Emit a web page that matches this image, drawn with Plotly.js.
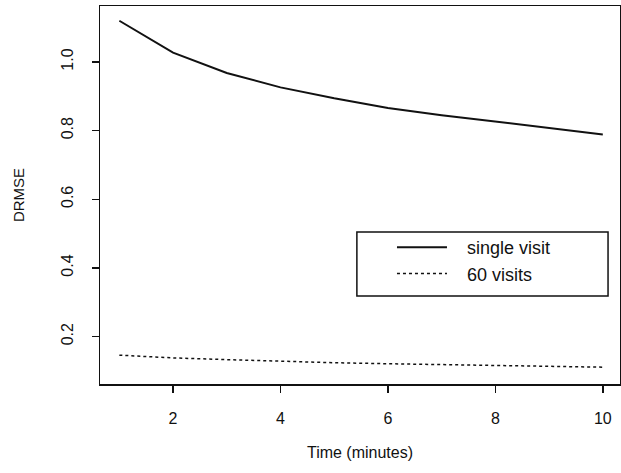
<!DOCTYPE html>
<html>
<head>
<meta charset="utf-8">
<script src="https://cdn.plot.ly/plotly-3.0.1.min.js"></script>
<style>html,body{margin:0;padding:0;background:#fff;}#chart{width:621px;height:473px;}</style>
</head>
<body>
<div id="chart"></div>
<script>
const timeMinutes = [1, 2, 3, 4, 5, 6, 7, 8, 9, 10];
const singleVisit = [1.120, 1.027, 0.968, 0.926, 0.894, 0.866, 0.845, 0.826, 0.808, 0.789];
const sixtyVisits = [0.146, 0.138, 0.133, 0.128, 0.124, 0.121, 0.118, 0.116, 0.113, 0.111];
const seriesNames = ["single visit", "60 visits"];
const xTicks = [2, 4, 6, 8, 10];
const yTicks = [0.2, 0.4, 0.6, 0.8, 1.0];
const yTickText = ["0.2", "0.4", "0.6", "0.8", "1.0"];

const font = "Liberation Sans, Arial, Helvetica, sans-serif";
const gap = "\u00a0\u00a0\u00a0";

const traces = [
  {x: timeMinutes, y: singleVisit, name: gap + seriesNames[0], mode: "lines",
   line: {color: "#111", width: 2, dash: "solid"}},
  {x: timeMinutes, y: sixtyVisits, name: gap + seriesNames[1], mode: "lines",
   line: {color: "#111", width: 1.5, dash: "dot"}}
];

const layout = {
  width: 621, height: 473,
  margin: {l: 100, r: 1, t: 6, b: 89},
  paper_bgcolor: "#fff", plot_bgcolor: "#fff",
  font: {family: font, color: "#111", size: 16},
  showlegend: true,
  legend: {
    x: 0.5615, y: 0.41, xanchor: "left", yanchor: "top",
    bgcolor: "rgba(0,0,0,0)", borderwidth: 0,
    font: {family: font, size: 18, color: "#111"},
    itemwidth: 50, tracegroupgap: 0
  },
  shapes: [
    {type: "rect", xref: "paper", yref: "paper", x0: 0.494, x1: 0.977, y0: 0.233, y1: 0.402,
     line: {color: "#111", width: 1.5}, fillcolor: "rgba(0,0,0,0)", layer: "above"}
  ],
  xaxis: {
    range: [0.64, 10.32], tickvals: xTicks, ticktext: xTicks.map(String),
    showgrid: false, zeroline: false, showline: true, mirror: true,
    linecolor: "#111", linewidth: 1.5,
    ticks: "outside", ticklen: 7, tickwidth: 1.5, tickcolor: "#111",
    ticklabelstandoff: 12,
    tickfont: {family: font, size: 16, color: "#111"},
    title: {text: "Time (minutes)", font: {family: font, size: 16, color: "#111"}, standoff: 21}
  },
  yaxis: {
    range: [0.062, 1.163], tickvals: yTicks, ticktext: yTickText,
    showgrid: false, zeroline: false, showline: true, mirror: true,
    linecolor: "#111", linewidth: 1.5,
    ticks: "outside", ticklen: 7, tickwidth: 1.5, tickcolor: "#111",
    tickangle: -90, ticklabelstandoff: 12,
    tickfont: {family: font, size: 16, color: "#111"},
    title: {text: "DRMSE", font: {family: font, size: 15, color: "#111"}, standoff: 31}
  }
};

Plotly.newPlot("chart", traces, layout, {displayModeBar: false, staticPlot: true});
</script>
</body>
</html>
